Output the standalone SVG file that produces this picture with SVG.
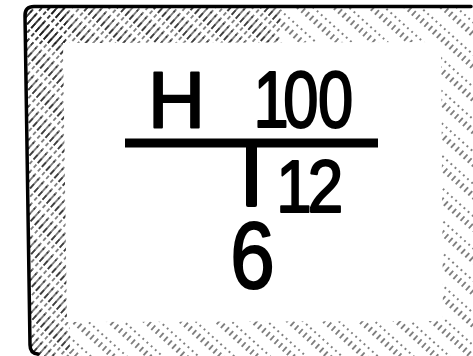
<svg xmlns="http://www.w3.org/2000/svg" width="473" height="356" viewBox="0 0 473 356">
  <style>
    .txt { font-family: "Liberation Sans", Arial, sans-serif; fill: #000; stroke: #000; stroke-width: 2.2; stroke-linejoin: round; }
    .border { fill: none; stroke: #000; stroke-width: 3.5; stroke-linecap: round; stroke-linejoin: round; }
  </style>
  <defs>
    <pattern id="hatchDense" patternUnits="userSpaceOnUse" width="24" height="5.6" patternTransform="rotate(-48)">
      <line x1="0" y1="2.8" x2="24" y2="2.8" stroke="#000" stroke-width="1.15" stroke-dasharray="15 3 4 2"/>
    </pattern>
    <pattern id="hatchSparse" patternUnits="userSpaceOnUse" width="24" height="5.6" patternTransform="rotate(-48)">
      <line x1="0" y1="2.8" x2="24" y2="2.8" stroke="#000" stroke-width="1.05" stroke-dasharray="6 5 2 11"/>
    </pattern>
    <clipPath id="outerClip">
      <path d="M 25,15.5 Q 25,6.5 34,6.5 L 473,6.5 L 473,356 L 40,356 Q 30,356 30,345 Z"/>
    </clipPath>
  </defs>
  <rect width="473" height="356" fill="#fff"/>
  <g id="frame">
    <g clip-path="url(#outerClip)">
      <rect x="0" y="0" width="473" height="356" fill="url(#hatchSparse)"/>
      <polygon points="20,0 66,0 70,356 20,356" fill="url(#hatchDense)"/>
      <polygon points="20,0 280,0 280,44 20,44" fill="url(#hatchDense)"/>
    </g>
    <polygon points="63,43 441,42 443,321 67,322" fill="#fff"/>
    <path class="border" d="M 471,6.5 L 34,6.5 Q 25,6.5 25,15.5 L 30,345 Q 30,353.5 38,354"/>
  </g>
  <g id="symbol">
    <text class="txt" x="176.5" y="127" font-size="79" text-anchor="middle">H</text>
    <g transform="scale(0.8,1)">
      <text class="txt" x="339 376 419.5" y="127" font-size="79" text-anchor="middle">100</text>
    </g>
    <rect x="125" y="138.5" width="253" height="9" fill="#000"/>
    <rect x="246" y="143" width="11" height="64" rx="2" fill="#000"/>
    <g transform="scale(0.85,1)">
      <text class="txt" x="345.9 383" y="212" font-size="75" text-anchor="middle">12</text>
      <text class="txt" x="297" y="288" font-size="94" text-anchor="middle">6</text>
    </g>
  </g>
</svg>
